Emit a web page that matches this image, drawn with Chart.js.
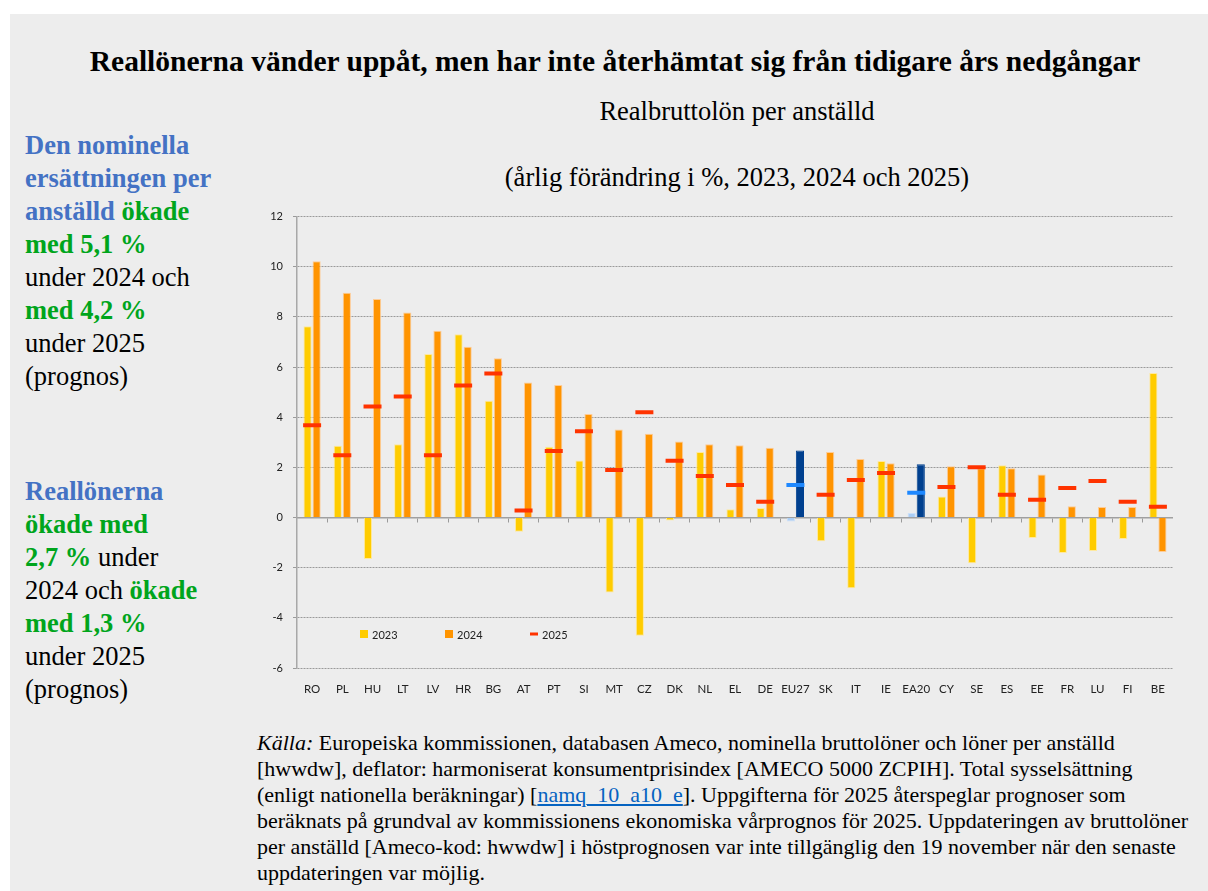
<!DOCTYPE html>
<html>
<head>
<meta charset="utf-8">
<script src="https://cdn.jsdelivr.net/npm/chart.js@4.4.1/dist/chart.umd.min.js"></script>
<style>
  html, body { margin: 0; padding: 0; background: #fff; overflow: hidden; }
  body { width: 1208px; height: 891px; position: relative; }
  #panel { position: absolute; left: 10px; top: 14px; width: 1198px; height: 877px; background: #ededed; overflow: hidden; }
  .serif { font-family: "Liberation Serif", "Times New Roman", serif; color: #000; }
  #title { position: absolute; left: 0; top: 31px; width: 1210px; text-align: center; font-size: 29.5px; font-weight: bold; }
  #sub1 { position: absolute; left: 427px; top: 82px; width: 600px; text-align: center; font-size: 26.5px; }
  #sub2 { position: absolute; left: 427px; top: 148px; width: 600px; text-align: center; font-size: 26.5px; }
  .side { position: absolute; left: 15px; font-size: 26.5px; line-height: 33px; white-space: nowrap; }
  #side1 { top: 115px; }
  #side2 { top: 461px; }
  .b { color: #4472c4; font-weight: bold; }
  .g { color: #00a51c; font-weight: bold; }
  #foot { position: absolute; left: 247px; top: 716px; font-size: 22px; line-height: 26px; white-space: nowrap; }
  #foot a { color: #0563c1; text-decoration: underline; }
  #wrap { position: absolute; left: 230px; top: 186px; width: 933px; height: 500px; }
</style>
</head>
<body>
<div id="panel">
  <div id="title" class="serif">Reallönerna vänder uppåt, men har inte återhämtat sig från tidigare års nedgångar</div>
  <div id="sub1" class="serif">Realbruttolön per anställd</div>
  <div id="sub2" class="serif">(årlig förändring i %, 2023, 2024 och 2025)</div>
  <div id="side1" class="side serif">
    <span class="b">Den nominella</span><br>
    <span class="b">ersättningen per</span><br>
    <span class="b">anställd</span> <span class="g">ökade</span><br>
    <span class="g">med 5,1 %</span><br>
    under 2024 och<br>
    <span class="g">med 4,2 %</span><br>
    under 2025<br>
    (prognos)
  </div>
  <div id="side2" class="side serif">
    <span class="b">Reallönerna</span><br>
    <span class="g">ökade med</span><br>
    <span class="g">2,7 %</span> under<br>
    2024 och <span class="g">ökade</span><br>
    <span class="g">med 1,3 %</span><br>
    under 2025<br>
    (prognos)
  </div>
  <div id="wrap"><canvas id="chart"></canvas></div>
  <div id="foot" class="serif">
    <i>Källa:</i> Europeiska kommissionen, databasen Ameco, nominella bruttolöner och löner per anställd<br>
    [hwwdw], deflator: harmoniserat konsumentprisindex [AMECO 5000 ZCPIH]. Total sysselsättning<br>
    (enligt nationella beräkningar) [<a>namq_10_a10_e</a>]. Uppgifterna för 2025 återspeglar prognoser som<br>
    beräknats på grundval av kommissionens ekonomiska vårprognos för 2025. Uppdateringen av bruttolöner<br>
    per anställd [Ameco-kod: hwwdw] i höstprognosen var inte tillgänglig den 19 november när den senaste<br>
    uppdateringen var möjlig.
  </div>
</div>
<script>
const countries = ["RO", "PL", "HU", "LT", "LV", "HR", "BG", "AT", "PT", "SI", "MT", "CZ", "DK", "NL", "EL",
  "DE", "EU27", "SK", "IT", "IE", "EA20", "CY", "SE", "ES", "EE", "FR", "LU", "FI", "BE"];
const y2023 = [7.63, 2.86, -1.65, 2.92, 6.52, 7.31, 4.66, -0.57, 2.82, 2.27, -2.99, -4.71, -0.12, 2.61, 0.33,
  0.38, -0.16, -0.95, -2.82, 2.25, 0.18, 0.84, -1.82, 2.08, -0.82, -1.41, -1.33, -0.86, 5.76];
const y2024 = [10.22, 8.96, 8.71, 8.18, 7.45, 6.81, 6.35, 5.38, 5.28, 4.13, 3.51, 3.34, 3.03, 2.92, 2.88,
  2.78, 2.67, 2.61, 2.33, 2.16, 2.12, 2.04, 1.97, 1.97, 1.72, 0.45, 0.42, 0.42, -1.37];
const y2025 = [3.68, 2.48, 4.43, 4.83, 2.48, 5.26, 5.74, 0.28, 2.65, 3.44, 1.90, 4.20, 2.26, 1.66, 1.30,
  0.63, 1.30, 0.91, 1.50, 1.78, 0.99, 1.22, 2.01, 0.91, 0.71, 1.18, 1.46, 0.63, 0.43];
const yTicks = [-6, -4, -2, 0, 2, 4, 6, 8, 10, 12];
const aggregates = ["EU27", "EA20"];

const isAgg = (i) => aggregates.includes(countries[i]);
const pick = (normal, agg) => countries.map((c, i) => isAgg(i) ? agg : normal);

// legend drawn inside the plot, bottom left like the original
const innerLegend = {
  id: "innerLegend",
  afterDatasetsDraw(chart) {
    const { ctx, chartArea } = chart;
    const y = chartArea.bottom - 34;
    ctx.save();
    ctx.font = "11px Lato";
    ctx.textBaseline = "middle";
    chart.data.datasets.forEach((ds, i) => {
      const x = chartArea.left + 63 + i * 85;
      ctx.fillStyle = ds.legendColor;
      if (ds.type === "line") {
        ctx.fillRect(x, y - 1.5, 8, 3);
      } else {
        ctx.fillRect(x, y - 4, 8, 8);
      }
      ctx.fillStyle = "#222";
      ctx.fillText(ds.label, x + 12, y + 1);
    });
    ctx.restore();
  }
};

new Chart(document.getElementById("chart"), {
  type: "bar",
  data: {
    labels: countries,
    datasets: [
      {
        label: "2023", data: y2023, order: 2, legendColor: "#ffcc00",
        backgroundColor: pick("#ffcc00", "#a9cdf5"),
        borderColor: pick("rgba(255,232,150,0.9)", "rgba(200,222,250,0.9)"),
        borderWidth: 1,
        barPercentage: 0.9, categoryPercentage: 0.6
      },
      {
        label: "2024", data: y2024, order: 2, legendColor: "#ff9400",
        backgroundColor: pick("#ff9400", "#00408f"),
        borderColor: pick("rgba(255,200,140,0.9)", "#00408f"),
        borderWidth: 1,
        barPercentage: 0.9, categoryPercentage: 0.6
      },
      {
        type: "line", label: "2025", data: y2025, order: 1, legendColor: "#ff3300",
        showLine: false,
        pointStyle: "line",
        pointRadius: 9,
        pointHoverRadius: 9,
        pointBorderWidth: 4,
        pointBorderColor: pick("#ff3300", "#1e88ff"),
        pointBackgroundColor: pick("#ff3300", "#1e88ff")
      }
    ]
  },
  options: {
    responsive: true,
    maintainAspectRatio: false,
    animation: false,
    events: [],
    layout: { autoPadding: false, padding: { top: 13, right: 0, bottom: 0, left: 0 } },
    plugins: {
      legend: { display: false },
      tooltip: { enabled: false }
    },
    scales: {
      x: {
        grid: { display: false, drawTicks: true, tickLength: 12 },
        border: { display: false },
        ticks: { padding: 2, color: "#222", font: { family: "Lato", size: 11.5 }, maxRotation: 0, autoSkip: false },
        afterFit: (s) => { s.height = 32; }
      },
      x2: {
        axis: "x",
        type: "category",
        labels: countries,
        position: { y: 0 },
        offset: true,
        grid: { offset: true, drawOnChartArea: false, drawTicks: true, tickLength: 4, color: "#9a9a9a", lineWidth: 1 },
        border: { display: true, color: "#a0a0a0", width: 1.5 },
        ticks: { display: false, padding: 0 }
      },
      y: {
        min: -6, max: 12,
        afterBuildTicks: (s) => { s.ticks = yTicks.map((v) => ({ value: v })); },
        grid: {
          color: (c) => c.tick && c.tick.value === 0 ? "rgba(0,0,0,0)" : "#9a9a9a",
          tickColor: "#9a9a9a",
          tickLength: 4,
          lineWidth: 1
        },
        border: { display: true, color: "#a8a8a8", width: 1.5, dash: [2, 1] },
        ticks: { padding: 10, color: "#222", font: { family: "Lato", size: 11 } },
        afterFit: (s) => { s.width = 57; }
      }
    }
  },
  plugins: [innerLegend]
});
</script>
</body>
</html>
